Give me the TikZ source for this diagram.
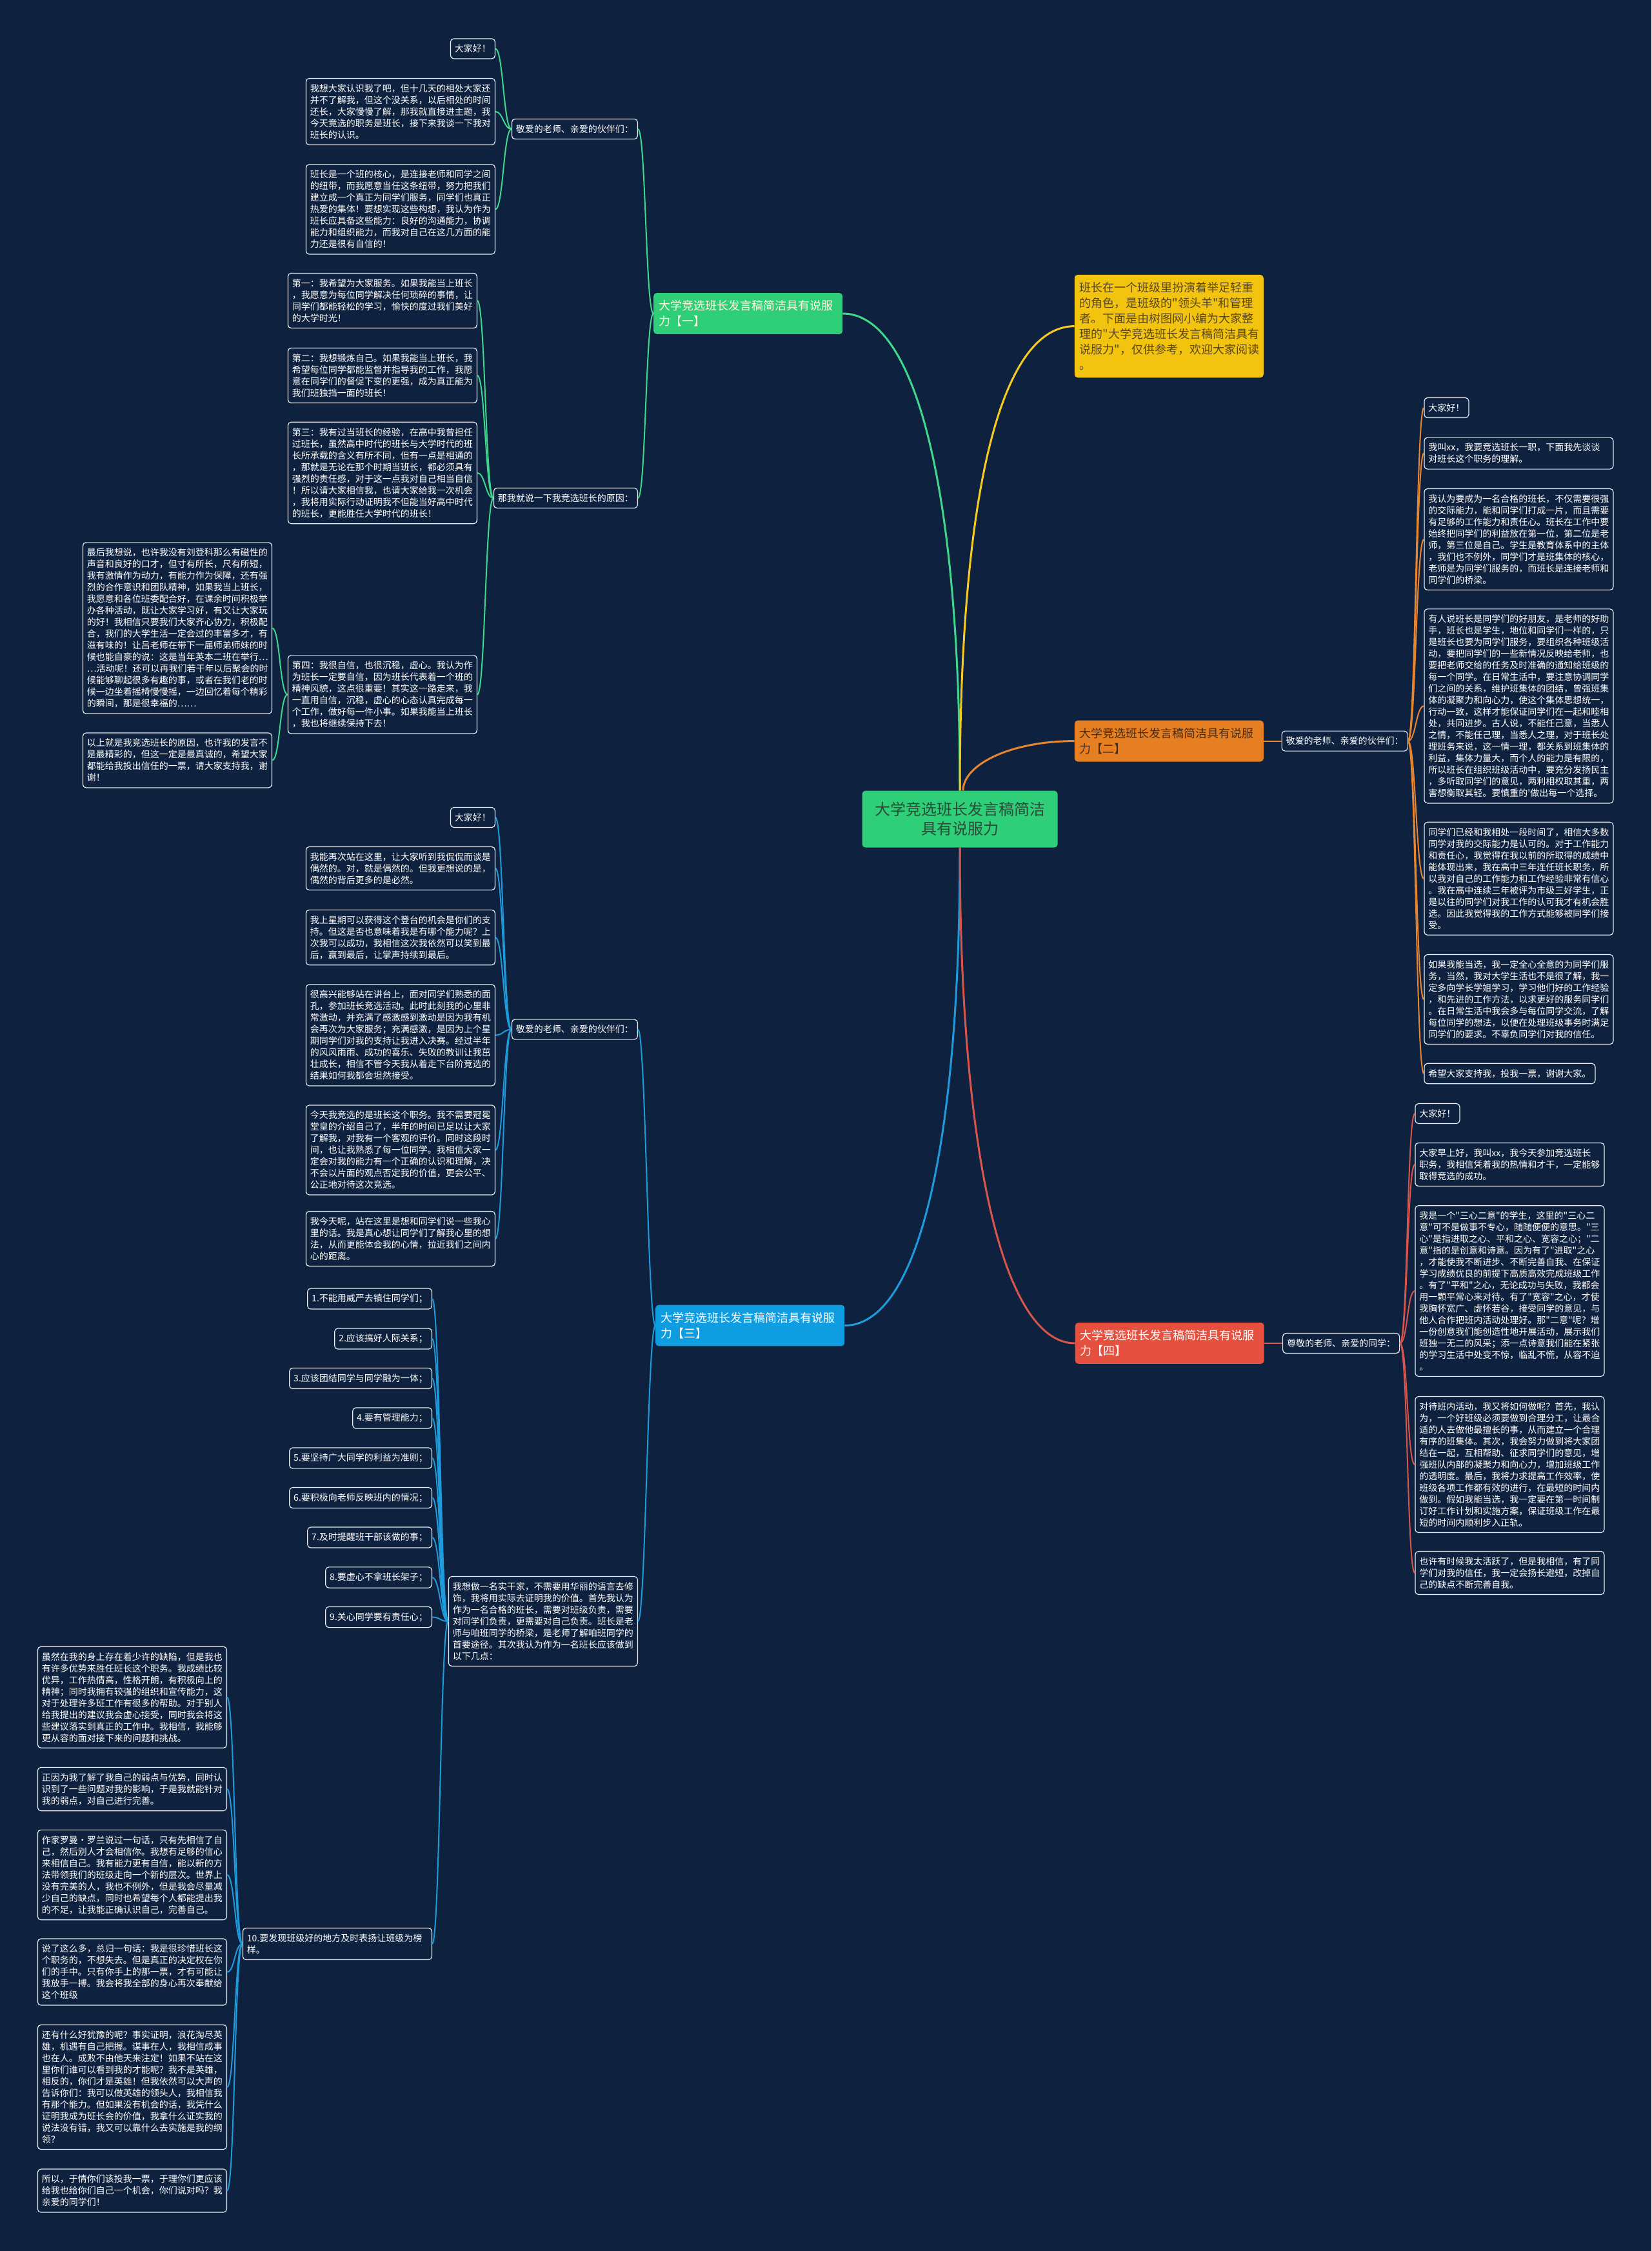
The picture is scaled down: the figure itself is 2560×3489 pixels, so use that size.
\documentclass[tikz,border=0pt]{standalone}
\usepackage{fontspec}
\setmainfont{Noto Sans CJK SC}
\newfontfamily\cjkfont{Noto Sans CJK SC}
\definecolor{bg}{HTML}{0E223F}
\definecolor{cgreen}{HTML}{2ECF78}
\definecolor{lgreen}{HTML}{3FD88A}
\definecolor{cyellow}{HTML}{F2C40F}
\definecolor{lyellow}{HTML}{F6CB1E}
\definecolor{corange}{HTML}{E67E22}
\definecolor{lorange}{HTML}{E8862F}
\definecolor{cblue}{HTML}{0E9DE0}
\definecolor{lblue}{HTML}{1E9BDC}
\definecolor{cred}{HTML}{E5503F}
\definecolor{lred}{HTML}{D9544A}
\definecolor{rtext}{HTML}{2C4A38}
\definecolor{ytext}{HTML}{5A461A}
\definecolor{otext}{HTML}{4A2C12}
\definecolor{gtext}{HTML}{FFF8DC}
\definecolor{edge}{HTML}{E6ECF2}
\newcommand\fleaf{\cjkfont\fontsize{14pt}{18pt}\selectfont}
\newcommand\fbr{\cjkfont\fontsize{18pt}{24pt}\selectfont}
\newcommand\froot{\cjkfont\fontsize{24pt}{30pt}\selectfont}
\newcommand\cL[3]{\draw[#1] (#2.west) .. controls +(-12,0) and +(12,0) .. (#3.east);}
\newcommand\cR[3]{\draw[#1] (#2.east) .. controls +(12,0) and +(-12,0) .. (#3.west);}
\begin{document}
\begin{tikzpicture}[x=1pt,y=-1pt,
 leaf/.style={draw=edge,line width=1.2pt,rounded corners=5pt,fill=bg,text=white,font=\fleaf,align=left,inner xsep=6.5pt,inner ysep=9pt},
 leafL/.style={leaf,anchor=east},
 leafR/.style={leaf,anchor=west},
 wbox/.style={text width=280pt},
 br/.style={rounded corners=5pt,font=\fbr,align=left,text width=277pt,inner xsep=8pt,inner ysep=11.5pt,anchor=west},
 rootbox/.style={rounded corners=5pt,fill=cgreen,text=rtext,font=\froot,align=center,minimum width=303pt,minimum height=88pt,inner sep=4pt},
 gmain/.style={draw=lgreen,line width=3pt},
 ymain/.style={draw=lyellow,line width=3pt},
 omain/.style={draw=lorange,line width=3pt},
 bmain/.style={draw=lblue,line width=3pt},
 rmain/.style={draw=lred,line width=3pt},
 gsub/.style={draw=lgreen,line width=2pt},
 osub/.style={draw=lorange,line width=2pt},
 bsub/.style={draw=lblue,line width=2pt},
 rsub/.style={draw=lred,line width=2pt}
]
\fill[bg] (0,0) rectangle (2560,3489);
\useasboundingbox (0,0) rectangle (2560,3489);

% ---------- root and main branches ----------
\node[rootbox] (r) at (1488,1269.6) {大学竞选班长发言稿简洁\\具有说服力};
\node[br,fill=cgreen,text=gtext] (b1) at (1013,486) {大学竞选班长发言稿简洁具有说服\\力【一】};
\node[br,fill=cyellow,text=ytext] (intro) at (1665.6,505.6) {班长在一个班级里扮演着举足轻重\\的角色，是班级的"领头羊"和管理\\者。下面是由树图网小编为大家整\\理的"大学竞选班长发言稿简洁具有\\说服力"，仅供参考，欢迎大家阅读\\。};
\node[br,fill=corange,text=otext] (b2) at (1665.6,1148.6) {大学竞选班长发言稿简洁具有说服\\力【二】};
\node[br,fill=cblue,text=white] (b3) at (1016,2054.5) {大学竞选班长发言稿简洁具有说服\\力【三】};
\node[br,fill=cred,text=white] (b4) at (1666.5,2082) {大学竞选班长发言稿简洁具有说服\\力【四】};

\draw[gmain] (r.north) .. controls +(0,-480) and +(110,0) .. (b1.east);
\draw[ymain] (r.north) .. controls +(0,-480) and +(-110,0) .. (intro.west);
\draw[omain] ([xshift=5pt]r.north) .. controls +(0,-40) and +(-100,0) .. (b2.west);
\draw[bmain] (r.south) .. controls +(0,480) and +(110,0) .. (b3.east);
\draw[rmain] (r.south) .. controls +(0,480) and +(-110,0) .. (b4.west);

% ---------- branch 1 ----------
\node[leafL] (a1) at (989,200) {敬爱的老师、亲爱的伙伴们：};
\node[leafL] (a2) at (989,772) {那我就说一下我竞选班长的原因：};
\cL{gsub}{b1}{a1}
\cL{gsub}{b1}{a2}

\node[leafL] (a1a) at (768,75.5) {大家好！};
\node[leafL,wbox] (a1b) at (768,173) {我想大家认识我了吧，但十几天的相处大家还\\并不了解我，但这个没关系，以后相处的时间\\还长，大家慢慢了解，那我就直接进主题，我\\今天竟选的职务是班长，接下来我谈一下我对\\班长的认识。};
\node[leafL,wbox] (a1c) at (768,324.5) {班长是一个班的核心，是连接老师和同学之间\\的纽带，而我愿意当任这条纽带，努力把我们\\建立成一个真正为同学们服务，同学们也真正\\热爱的集体！要想实现这些构想，我认为作为\\班长应具备这些能力：良好的沟通能力，协调\\能力和组织能力，而我对自己在这几方面的能\\力还是很有自信的！};
\cL{gsub}{a1}{a1a}
\cL{gsub}{a1}{a1b}
\cL{gsub}{a1}{a1c}

\node[leafL,wbox] (a2a) at (740,466) {第一：我希望为大家服务。如果我能当上班长\\，我愿意为每位同学解决任何琐碎的事情，让\\同学们都能轻松的学习，愉快的度过我们美好\\的大学时光！};
\node[leafL,wbox] (a2b) at (740,582) {第二：我想锻炼自己。如果我能当上班长，我\\希望每位同学都能监督并指导我的工作，我愿\\意在同学们的督促下变的更强，成为真正能为\\我们班独挡一面的班长！};
\node[leafL,wbox] (a2c) at (740,733) {第三：我有过当班长的经验，在高中我曾担任\\过班长，虽然高中时代的班长与大学时代的班\\长所承载的含义有所不同，但有一点是相通的\\，那就是无论在那个时期当班长，都必须具有\\强烈的责任感，对于这一点我对自己相当自信\\！所以请大家相信我，也请大家给我一次机会\\，我将用实际行动证明我不但能当好高中时代\\的班长，更能胜任大学时代的班长！};
\node[leafL,wbox] (a2d) at (740,1076.5) {第四：我很自信，也很沉稳，虚心。我认为作\\为班长一定要自信，因为班长代表着一个班的\\精神风貌，这点很重要！其实这一路走来，我\\一直用自信，沉稳，虚心的心态认真完成每一\\个工作，做好每一件小事。如果我能当上班长\\，我也将继续保持下去！};
\cL{gsub}{a2}{a2a}
\cL{gsub}{a2}{a2b}
\cL{gsub}{a2}{a2c}
\cL{gsub}{a2}{a2d}

\node[leafL,wbox] (a2d1) at (422,973.5) {最后我想说，也许我没有刘登科那么有磁性的\\声音和良好的口才，但寸有所长，尺有所短，\\我有激情作为动力，有能力作为保障，还有强\\烈的合作意识和团队精神，如果我当上班长，\\我愿意和各位班委配合好，在课余时间积极举\\办各种活动，既让大家学习好，有又让大家玩\\的好！我相信只要我们大家齐心协力，积极配\\合，我们的大学生活一定会过的丰富多才，有\\滋有味的！让吕老师在带下一届师弟师妹的时\\候也能自豪的说：这是当年英本二班在举行…\\…活动呢！还可以再我们若干年以后聚会的时\\候能够聊起很多有趣的事，或者在我们老的时\\候一边坐着摇椅慢慢摇，一边回忆着每个精彩\\的瞬间，那是很幸福的……};
\node[leafL,wbox] (a2d2) at (422,1178.5) {以上就是我竞选班长的原因，也许我的发言不\\是最精彩的，但这一定是最真诚的，希望大家\\都能给我投出信任的一票，请大家支持我，谢\\谢！};
\cL{gsub}{a2d}{a2d1}
\cL{gsub}{a2d}{a2d2}

% ---------- branch 2 ----------
\node[leafR] (bb1) at (1986.5,1148.6) {敬爱的老师、亲爱的伙伴们：};
\draw[osub] (b2.east) -- (bb1.west);
\node[leafR] (bb1a) at (2207.3,632) {大家好！};
\node[leafR,wbox] (bb1b) at (2207.3,702.6) {我叫xx，我要竞选班长一职，下面我先谈谈\\对班长这个职务的理解。};
\node[leafR,wbox] (bb1c) at (2207.3,836) {我认为要成为一名合格的班长，不仅需要很强\\的交际能力，能和同学们打成一片，而且需要\\有足够的工作能力和责任心。班长在工作中要\\始终把同学们的利益放在第一位，第二位是老\\师，第三位是自己。学生是教育体系中的主体\\，我们也不例外，同学们才是班集体的核心，\\老师是为同学们服务的，而班长是连接老师和\\同学们的桥梁。};
\node[leafR,wbox] (bb1d) at (2207.3,1094.4) {有人说班长是同学们的好朋友，是老师的好助\\手，班长也是学生，地位和同学们一样的，只\\是班长也要为同学们服务，要组织各种班级活\\动，要把同学们的一些新情况反映给老师，也\\要把老师交给的任务及时准确的通知给班级的\\每一个同学。在日常生活中，要注意协调同学\\们之间的关系，维护班集体的团结，曾强班集\\体的凝聚力和向心力，使这个集体思想统一，\\行动一致，这样才能保证同学们在一起和睦相\\处，共同进步。古人说，不能任己意，当悉人\\之情，不能任己理，当悉人之理，对于班长处\\理班务来说，这一情一理，都关系到班集体的\\利益，集体力量大，而个人的能力是有限的，\\所以班长在组织班级活动中，要充分发扬民主\\，多听取同学们的意见，两利相权取其重，两\\害想衡取其轻。要慎重的'做出每一个选择。};
\node[leafR,wbox] (bb1e) at (2207.3,1361.8) {同学们已经和我相处一段时间了，相信大多数\\同学对我的交际能力是认可的。对于工作能力\\和责任心，我觉得在我以前的所取得的成绩中\\能体现出来，我在高中三年连任班长职务，所\\以我对自己的工作能力和工作经验非常有信心\\。我在高中连续三年被评为市级三好学生，正\\是以往的同学们对我工作的认可我才有机会胜\\选。因此我觉得我的工作方式能够被同学们接\\受。};
\node[leafR,wbox] (bb1f) at (2207.3,1549) {如果我能当选，我一定全心全意的为同学们服\\务，当然，我对大学生活也不是很了解，我一\\定多向学长学姐学习，学习他们好的工作经验\\，和先进的工作方法，以求更好的服务同学们\\。在日常生活中我会多与每位同学交流，了解\\每位同学的想法，以便在处理班级事务时满足\\同学们的要求。不辜负同学们对我的信任。};
\node[leafR] (bb1g) at (2207.3,1664) {希望大家支持我，投我一票，谢谢大家。};
\cR{osub}{bb1}{bb1a}
\cR{osub}{bb1}{bb1b}
\cR{osub}{bb1}{bb1c}
\cR{osub}{bb1}{bb1d}
\cR{osub}{bb1}{bb1e}
\cR{osub}{bb1}{bb1f}
\cR{osub}{bb1}{bb1g}

% ---------- branch 3 ----------
\node[leafL] (c1) at (989,1595.6) {敬爱的老师、亲爱的伙伴们：};
\node[leafL,wbox] (c2) at (989,2513) {我想做一名实干家，不需要用华丽的语言去修\\饰，我将用实际去证明我的价值。首先我认为\\作为一名合格的班长，需要对班级负责，需要\\对同学们负责，更需要对自己负责。班长是老\\师与咱班同学的桥梁，是老师了解咱班同学的\\首要途径。其次我认为作为一名班长应该做到\\以下几点：};
\cL{bsub}{b3}{c1}
\cL{bsub}{b3}{c2}

\node[leafL] (c1a) at (768,1267) {大家好！};
\node[leafL,wbox] (c1b) at (768,1346) {我能再次站在这里，让大家听到我侃侃而谈是\\偶然的。对，就是偶然的。但我更想说的是，\\偶然的背后更多的是必然。};
\node[leafL,wbox] (c1c) at (768,1453) {我上星期可以获得这个登台的机会是你们的支\\持。但这是否也意味着我是有哪个能力呢？上\\次我可以成功，我相信这次我依然可以笑到最\\后，赢到最后，让掌声持续到最后。};
\node[leafL,wbox] (c1d) at (768,1604.5) {很高兴能够站在讲台上，面对同学们熟悉的面\\孔，参加班长竞选活动。此时此刻我的心里非\\常激动，并充满了感激感到激动是因为我有机\\会再次为大家服务；充满感激，是因为上个星\\期同学们对我的支持让我进入决赛。经过半年\\的风风雨雨、成功的喜乐、失败的教训让我茁\\壮成长，相信不管今天我从着走下台阶竞选的\\结果如何我都会坦然接受。};
\node[leafL,wbox] (c1e) at (768,1782.5) {今天我竞选的是班长这个职务。我不需要冠冕\\堂皇的介绍自己了，半年的时间已足以让大家\\了解我，对我有一个客观的评价。同时这段时\\间，也让我熟悉了每一位同学。我相信大家一\\定会对我的能力有一个正确的认识和理解，决\\不会以片面的观点否定我的价值，更会公平、\\公正地对待这次竞选。};
\node[leafL,wbox] (c1f) at (768,1920) {我今天呢，站在这里是想和同学们说一些我心\\里的话。我是真心想让同学们了解我心里的想\\法，从而更能体会我的心情，拉近我们之间内\\心的距离。};
\cL{bsub}{c1}{c1a}
\cL{bsub}{c1}{c1b}
\cL{bsub}{c1}{c1c}
\cL{bsub}{c1}{c1d}
\cL{bsub}{c1}{c1e}
\cL{bsub}{c1}{c1f}

\node[leafL] (n1) at (670,2013) {1.不能用威严去镇住同学们；};
\node[leafL] (n2) at (670,2075) {2.应该搞好人际关系；};
\node[leafL] (n3) at (670,2136.5) {3.应该团结同学与同学融为一体；};
\node[leafL] (n4) at (670,2198) {4.要有管理能力；};
\node[leafL] (n5) at (670,2260) {5.要坚持广大同学的利益为准则；};
\node[leafL] (n6) at (670,2321.5) {6.要积极向老师反映班内的情况；};
\node[leafL] (n7) at (670,2383) {7.及时提醒班干部该做的事；};
\node[leafL] (n8) at (670,2445) {8.要虚心不拿班长架子；};
\node[leafL] (n9) at (670,2506.5) {9.关心同学要有责任心；};
\node[leafL,wbox] (n10) at (670,3013) {10.要发现班级好的地方及时表扬让班级为榜\\样。};
\foreach \k in {1,...,10} {\cL{bsub}{c2}{n\k}}

\node[leafL,wbox] (t1) at (352,2630.7) {虽然在我的身上存在着少许的缺陷，但是我也\\有许多优势来胜任班长这个职务。我成绩比较\\优异，工作热情高，性格开朗，有积极向上的\\精神；同时我拥有较强的组织和宣传能力，这\\对于处理许多班工作有很多的帮助。对于别人\\给我提出的建议我会虚心接受，同时我会将这\\些建议落实到真正的工作中。我相信，我能够\\更从容的面对接下来的问题和挑战。};
\node[leafL,wbox] (t2) at (352,2773) {正因为我了解了我自己的弱点与优势，同时认\\识到了一些问题对我的影响，于是我就能针对\\我的弱点，对自己进行完善。};
\node[leafL,wbox] (t3) at (352,2906) {作家罗曼·罗兰说过一句话，只有先相信了自\\己，然后别人才会相信你。我想有足够的信心\\来相信自己。我有能力更有自信，能以新的方\\法带领我们的班级走向一个新的层次。世界上\\没有完美的人，我也不例外，但是我会尽量减\\少自己的缺点，同时也希望每个人都能提出我\\的不足，让我能正确认识自己，完善自己。};
\node[leafL,wbox] (t4) at (352,3056.5) {说了这么多，总归一句话：我是很珍惜班长这\\个职务的，不想失去。但是真正的决定权在你\\们的手中。只有你手上的那一票，才有可能让\\我放手一搏。我会将我全部的身心再次奉献给\\这个班级};
\node[leafL,wbox] (t5) at (352,3235) {还有什么好犹豫的呢？事实证明，浪花淘尽英\\雄，机遇有自己把握。谋事在人，我相信成事\\也在人。成败不由他天来注定！如果不站在这\\里你们谁可以看到我的才能呢？我不是英雄，\\相反的，你们才是英雄！但我依然可以大声的\\告诉你们：我可以做英雄的领头人，我相信我\\有那个能力。但如果没有机会的话，我凭什么\\证明我成为班长会的价值，我拿什么证实我的\\说法没有错，我又可以靠什么去实施是我的纲\\领？};
\node[leafL,wbox] (t6) at (352,3395.5) {所以，于情你们该投我一票，于理你们更应该\\给我也给你们自己一个机会，你们说对吗？我\\亲爱的同学们！};
\foreach \k in {1,...,6} {\cL{bsub}{n10}{t\k}}

% ---------- branch 4 ----------
\node[leafR] (d1) at (1988,2082) {尊敬的老师、亲爱的同学：};
\draw[rsub] (b4.east) -- (d1.west);
\node[leafR] (d1a) at (2193.3,1726) {大家好！};
\node[leafR,wbox] (d1b) at (2193.3,1805) {大家早上好，我叫xx，我今天参加竞选班长\\职务，我相信凭着我的热情和才干，一定能够\\取得竞选的成功。};
\node[leafR,wbox] (d1c) at (2193.3,2001) {我是一个"三心二意"的学生，这里的"三心二\\意"可不是做事不专心，随随便便的意思。"三\\心"是指进取之心、平和之心、宽容之心；"二\\意"指的是创意和诗意。因为有了"进取"之心\\，才能使我不断进步、不断完善自我、在保证\\学习成绩优良的前提下高质高效完成班级工作\\。有了"平和"之心，无论成功与失败，我都会\\用一颗平常心来对待。有了"宽容"之心，才使\\我胸怀宽广、虚怀若谷，接受同学的意见，与\\他人合作把班内活动处理好。那"二意"呢？增\\一份创意我们能创造性地开展活动，展示我们\\班独一无二的风采；添一点诗意我们能在紧张\\的学习生活中处变不惊，临乱不慌，从容不迫\\。};
\node[leafR,wbox] (d1d) at (2193.3,2270) {对待班内活动，我又将如何做呢？首先，我认\\为，一个好班级必须要做到合理分工，让最合\\适的人去做他最擅长的事，从而建立一个合理\\有序的班集体。其次，我会努力做到将大家团\\结在一起，互相帮助、征求同学们的意见，增\\强班队内部的凝聚力和向心力，增加班级工作\\的透明度。最后，我将力求提高工作效率，使\\班级各项工作都有效的进行，在最短的时间内\\做到。假如我能当选，我一定要在第一时间制\\订好工作计划和实施方案，保证班级工作在最\\短的时间内顺利步入正轨。};
\node[leafR,wbox] (d1e) at (2193.3,2438) {也许有时候我太活跃了，但是我相信，有了同\\学们对我的信任，我一定会扬长避短，改掉自\\己的缺点不断完善自我。};
\foreach \k in {a,b,c,d,e} {\cR{rsub}{d1}{d1\k}}
\end{tikzpicture}
\end{document}
